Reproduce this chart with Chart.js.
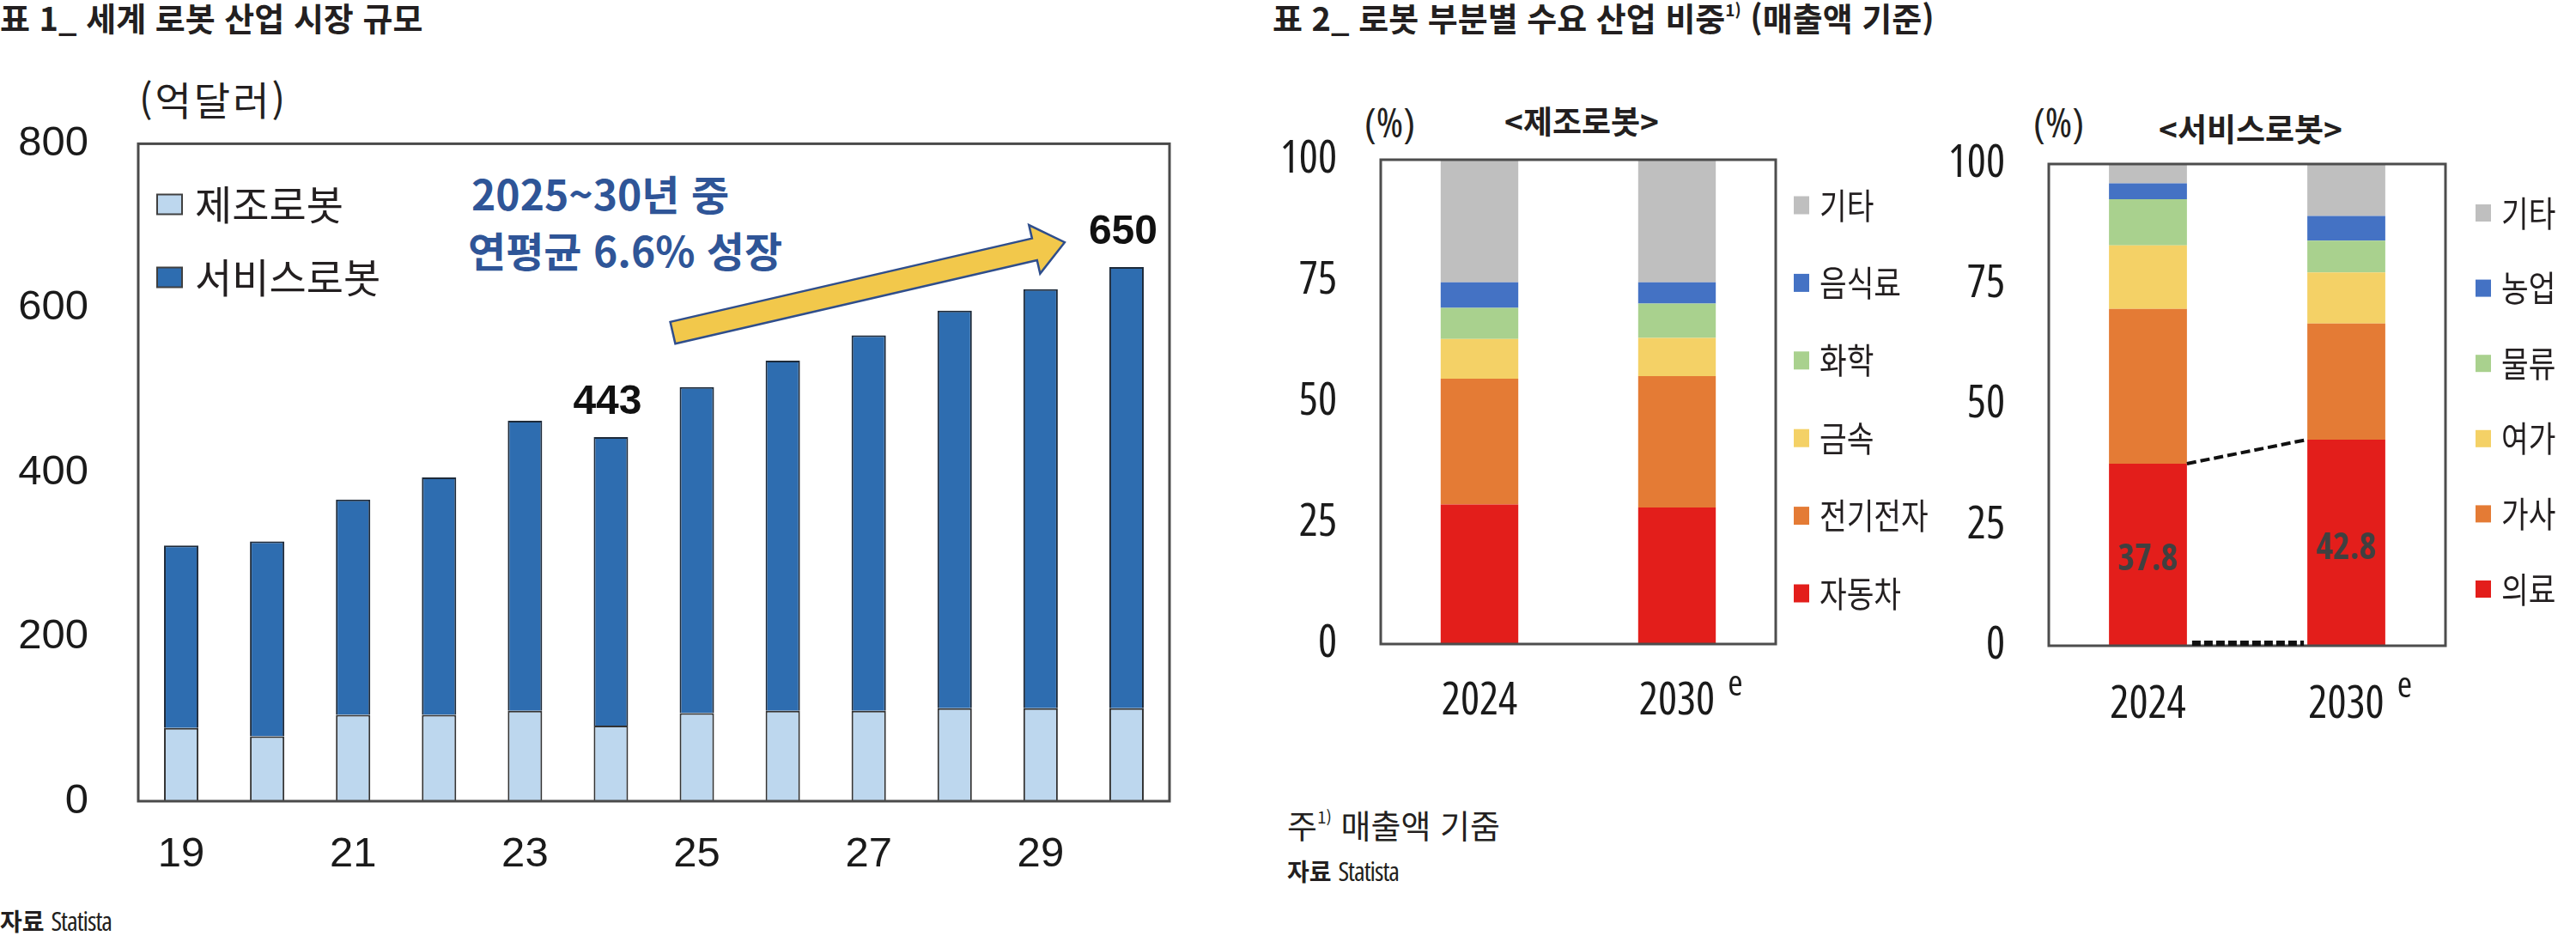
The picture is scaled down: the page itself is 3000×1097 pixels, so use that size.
<!DOCTYPE html>
<html lang="ko">
<head>
<meta charset="utf-8">
<title>로봇 산업 시장 규모 / 수요 산업 비중</title>
<script src="https://cdn.jsdelivr.net/npm/chart.js@4.4.1/dist/chart.umd.min.js"></script>
<style>
  html, body { margin: 0; padding: 0; background: #fff; }
  body { position: relative; width: 3000px; height: 1097px; overflow: hidden;
         font-family: "Noto Sans CJK KR", "Noto Sans", sans-serif; color: #231f20; }
  .txt { position: absolute; white-space: nowrap; line-height: 1; }
  .title { font-size: 38px; font-weight: 700; }
  .unit { font-size: 46px; letter-spacing: 3px; }
  .pct { font-family: "Open Sans", sans-serif; font-stretch: condensed; font-size: 48px; }
  .sub { font-size: 37px; font-weight: 700; text-align: center; width: 320px; }
  .note { font-size: 38px; }
  .src { font-size: 28px; }
  .src b { font-weight: 700; }
  .src span { font-family: "Open Sans", sans-serif; font-stretch: condensed; font-size: 31px; letter-spacing: -1px; }
  .growth { font-size: 48px; font-weight: 700; color: #2f5597; }
  sup { font-size: 0.5em; vertical-align: 0.9em; line-height: 0; }
  canvas { position: absolute; }
</style>
</head>
<body>
<div class="txt title" style="left:0;top:1px">표 1_ 세계 로봇 산업 시장 규모</div>
<div class="txt title" style="left:1482px;top:1px">표 2_ 로봇 부분별 수요 산업 비중<sup>1)</sup> (매출액 기준)</div>
<div class="txt unit" style="left:162px;top:91px">(억달러)</div>
<div class="txt pct" style="left:1589px;top:118px">(%)</div>
<div class="txt sub" style="left:1682px;top:122px">&lt;제조로봇&gt;</div>
<div class="txt pct" style="left:2368px;top:118px">(%)</div>
<div class="txt sub" style="left:2461px;top:131px">&lt;서비스로봇&gt;</div>
<div class="txt growth" style="left:549px;top:200px">2025~30년 중</div>
<div class="txt growth" style="left:545px;top:266px">연평균 6.6% 성장</div>
<div class="txt note" style="left:1499px;top:941px">주<sup>1)</sup> 매출액 기줌</div>
<div class="txt src" style="left:1499px;top:999px"><b>자료</b> <span>Statista</span></div>
<div class="txt src" style="left:0;top:1057px"><b>자료</b> <span>Statista</span></div>

<canvas id="c1" width="1420" height="1000" style="left:0;top:80px"></canvas>
<canvas id="c2" width="780" height="800" style="left:1480px;top:100px"></canvas>
<canvas id="c3" width="740" height="800" style="left:2260px;top:100px"></canvas>

<script>
// ---- 표 1: 세계 로봇 산업 시장 규모 (억달러)
const years = ['2019','2020','2021','2022','2023','2024','2025','2026','2027','2028','2029','2030'];
const yearTicks = ['19','','21','','23','','25','','27','','29',''];
const manufacturing = [89, 79, 105, 105, 110, 92, 107, 110, 110, 113, 113, 113];
const service = [222, 237, 262, 289, 353, 351, 397, 426, 457, 484, 510, 537];
const calloutYears = ['2024', '2030'];
// arrow anchors: [category index, 억달러]
const growthArrowFrom = [5.72, 570];
const growthArrowTo = [10.28, 680];

// ---- 표 2: 로봇 부분별 수요 산업 비중 (%)
const periods = ['2024', '2030'];
const periodSuffix = ['', 'e'];

const mfgAuto = [28.8, 28.2];
const mfgElec = [26.0, 27.1];
const mfgMetal = [8.2, 7.9];
const mfgChem = [6.4, 7.1];
const mfgFood = [5.3, 4.4];
const mfgEtc = [25.3, 25.3];

const svcMedical = [37.8, 42.8];
const svcHome = [32.1, 24.1];
const svcLeisure = [13.2, 10.6];
const svcLogistics = [9.6, 6.6];
const svcFarm = [3.3, 5.1];
const svcEtc = [4.0, 10.8];

const sectorColors = ['#E31E1B', '#E47B35', '#F4D166', '#A9D18E', '#4472C4', '#BFBFBF'];

const OPEN = "'Open Sans', sans-serif";
const KR = "'Noto Sans CJK KR', sans-serif";

// box around the plot area
const framePlugin = {
  id: 'frame',
  afterDatasetsDraw(chart, args, opts) {
    const {left, top, right, bottom} = chart.chartArea;
    const ctx = chart.ctx;
    ctx.save();
    ctx.strokeStyle = opts.color || '#4d4d4d';
    ctx.lineWidth = opts.width || 3;
    ctx.strokeRect(left, top, right - left, bottom - top);
    ctx.restore();
  }
};

// legend drawn at a fixed spot (inside the plot for 표 1, right side for 표 2)
const keysPlugin = {
  id: 'keys',
  afterDraw(chart, args, o) {
    const ctx = chart.ctx;
    let items = chart.data.datasets.map(d => ({label: d.label, color: d.backgroundColor}));
    if (o.reverse) items = items.reverse();
    ctx.save();
    ctx.font = o.font;
    ctx.textBaseline = 'middle';
    items.forEach((it, i) => {
      const cy = o.y + i * o.dy;
      ctx.fillStyle = it.color;
      ctx.fillRect(o.x, cy - o.box[1] / 2, o.box[0], o.box[1]);
      if (o.border) {
        ctx.strokeStyle = o.border;
        ctx.lineWidth = 2;
        ctx.strokeRect(o.x, cy - o.box[1] / 2, o.box[0], o.box[1]);
      }
      ctx.fillStyle = '#231f20';
      ctx.save();
      ctx.translate(o.x + o.textGap, cy);
      ctx.scale(o.scaleX || 1, 1);
      ctx.fillText(it.label, 0, 0);
      ctx.restore();
    });
    ctx.restore();
  }
};

const totalsPlugin = {
  id: 'totals',
  afterDatasetsDraw(chart) {
    const ctx = chart.ctx;
    const topBars = chart.getDatasetMeta(1).data;
    ctx.save();
    ctx.font = "bold 48px 'Liberation Sans', sans-serif";
    ctx.fillStyle = '#111';
    ctx.textAlign = 'center';
    ctx.textBaseline = 'middle';
    calloutYears.forEach(yr => {
      const i = years.indexOf(yr);
      const total = manufacturing[i] + service[i];
      ctx.fillText(String(total), topBars[i].x - 4, topBars[i].y - 40);
    });
    ctx.restore();
  }
};

const arrowPlugin = {
  id: 'growthArrow',
  afterDatasetsDraw(chart) {
    const {x, y} = chart.scales;
    const sx = x.getPixelForValue(growthArrowFrom[0]), sy = y.getPixelForValue(growthArrowFrom[1]);
    const tx = x.getPixelForValue(growthArrowTo[0]), ty = y.getPixelForValue(growthArrowTo[1]);
    const len = Math.hypot(tx - sx, ty - sy);
    const ux = (tx - sx) / len, uy = (ty - sy) / len;
    const nx = -uy, ny = ux;
    const hw = 13, hh = 29, headLen = 36;
    const bx = tx - ux * headLen, by = ty - uy * headLen;
    const pts = [
      [sx + nx * hw, sy + ny * hw], [bx + nx * hw, by + ny * hw], [bx + nx * hh, by + ny * hh],
      [tx, ty],
      [bx - nx * hh, by - ny * hh], [bx - nx * hw, by - ny * hw], [sx - nx * hw, sy - ny * hw]
    ];
    const ctx = chart.ctx;
    ctx.save();
    ctx.beginPath();
    pts.forEach((p, i) => i ? ctx.lineTo(p[0], p[1]) : ctx.moveTo(p[0], p[1]));
    ctx.closePath();
    ctx.fillStyle = '#F2C84B';
    ctx.fill();
    ctx.strokeStyle = '#2F4E8C';
    ctx.lineWidth = 2.5;
    ctx.stroke();
    ctx.restore();
  }
};

// superscript "e" after 2030
const suffixPlugin = {
  id: 'suffix',
  afterDraw(chart) {
    const sc = chart.scales.x, ctx = chart.ctx;
    ctx.save();
    ctx.font = 'normal condensed 42px ' + OPEN;
    ctx.fillStyle = '#1a1a1a';
    ctx.textAlign = 'center';
    ctx.textBaseline = 'middle';
    periods.forEach((p, i) => {
      if (periodSuffix[i]) ctx.fillText(periodSuffix[i], sc.getPixelForTick(i) + 68, sc.top + 48);
    });
    ctx.restore();
  }
};

const svcExtras = {
  id: 'svcExtras',
  afterDatasetsDraw(chart) {
    const ctx = chart.ctx, ys = chart.scales.y;
    const bars = chart.getDatasetMeta(0).data;
    const r0 = bars[0].x + bars[0].width / 2;
    const l1 = bars[1].x - bars[1].width / 2;
    ctx.save();
    ctx.strokeStyle = '#111';
    ctx.lineWidth = 4;
    ctx.setLineDash([11, 5]);
    ctx.beginPath();
    ctx.moveTo(r0, ys.getPixelForValue(svcMedical[0]));
    ctx.lineTo(l1, ys.getPixelForValue(svcMedical[1]));
    ctx.stroke();
    const y0 = ys.getPixelForValue(0) - 3;
    ctx.lineWidth = 6;
    ctx.setLineDash([10, 4]);
    ctx.beginPath();
    ctx.moveTo(r0 + 6, y0);
    ctx.lineTo(l1 - 4, y0);
    ctx.stroke();
    ctx.setLineDash([]);
    ctx.fillStyle = '#404040';
    ctx.font = 'bold condensed 42px ' + OPEN;
    ctx.textAlign = 'center';
    ctx.textBaseline = 'middle';
    svcMedical.forEach((v, i) => ctx.fillText(v.toFixed(1), bars[i].x, ys.getPixelForValue(v * 0.47)));
    ctx.restore();
  }
};

// ---------- 표 1
new Chart(document.getElementById('c1'), {
  type: 'bar',
  data: {
    labels: years,
    datasets: [
      { label: '제조로봇', data: manufacturing, backgroundColor: '#BDD7EE', borderColor: '#333333',
        borderWidth: 2, barPercentage: 0.4, categoryPercentage: 1 },
      { label: '서비스로봇', data: service, backgroundColor: '#2E6DB0', borderColor: '#1d2a3a',
        borderWidth: 2, barPercentage: 0.4, categoryPercentage: 1 }
    ]
  },
  options: {
    responsive: false,
    animation: false,
    devicePixelRatio: 1,
    layout: { padding: { top: 81, right: 58, bottom: 37, left: 0 } },
    plugins: {
      legend: { display: false },
      tooltip: { enabled: false },
      frame: { color: '#4a4a4a', width: 3 },
      keys: { x: 183, y: 158, dy: 85, box: [29, 23], textGap: 44, font: '47px ' + KR, border: '#404040' }
    },
    scales: {
      x: {
        stacked: true,
        grid: { display: false, drawTicks: false },
        border: { display: false },
        ticks: { autoSkip: false, maxRotation: 0, padding: 33, color: '#1a1a1a',
                 font: { family: "'Liberation Sans', sans-serif", size: 49 },
                 callback: (v, i) => yearTicks[i] },
        afterFit: s => { s.height = 110; }
      },
      y: {
        stacked: true, min: 0, max: 800,
        grid: { display: false, drawTicks: false },
        border: { display: false },
        ticks: { stepSize: 200, padding: 58, color: '#1a1a1a',
                 font: { family: "'Liberation Sans', sans-serif", size: 49 } },
        afterFit: s => { s.width = 161; }
      }
    }
  },
  plugins: [framePlugin, arrowPlugin, totalsPlugin, keysPlugin]
});

// ---------- 표 2 helpers
const pctFont = { family: OPEN, size: 52, weight: 'condensed' };

function shareChart(id, names, series, pad, yWidth, xPad, keys, extra) {
  return new Chart(document.getElementById(id), {
    type: 'bar',
    data: {
      labels: periods,
      datasets: names.map((n, i) => ({
        label: n, data: series[i], backgroundColor: sectorColors[i], borderWidth: 0,
        barPercentage: 0.393, categoryPercentage: 1
      }))
    },
    options: {
      responsive: false,
      animation: false,
      devicePixelRatio: 1,
      layout: { padding: pad },
      plugins: {
        legend: { display: false },
        tooltip: { enabled: false },
        frame: { color: '#4d4d4d', width: 3 },
        keys: keys
      },
      scales: {
        x: {
          stacked: true,
          grid: { display: false, drawTicks: false },
          border: { display: false },
          ticks: { padding: xPad, color: '#1a1a1a', maxRotation: 0, font: pctFont },
          afterFit: s => { s.height = 110; }
        },
        y: {
          stacked: true, min: 0, max: 100,
          grid: { display: false, drawTicks: false },
          border: { display: false },
          ticks: { stepSize: 25, padding: 51, color: '#1a1a1a', font: pctFont },
          afterFit: s => { s.width = yWidth; }
        }
      }
    },
    plugins: [framePlugin, keysPlugin, suffixPlugin].concat(extra || [])
  });
}

shareChart('c2',
  ['자동차', '전기전자', '금속', '화학', '음식료', '기타'],
  [mfgAuto, mfgElec, mfgMetal, mfgChem, mfgFood, mfgEtc],
  { top: 86, right: 192, bottom: 40, left: 0 }, 128, 36,
  { x: 609, y: 139, dy: 90.4, box: [18, 21], textGap: 30, font: '41px ' + KR, scaleX: 0.84, reverse: true });

shareChart('c3',
  ['의료', '가사', '여가', '물류', '농업', '기타'],
  [svcMedical, svcHome, svcLeisure, svcLogistics, svcFarm, svcEtc],
  { top: 91, right: 152, bottom: 38, left: 0 }, 126, 38,
  { x: 623, y: 148, dy: 87.6, box: [18, 20], textGap: 30, font: '41px ' + KR, scaleX: 0.84, reverse: true },
  [svcExtras]);
</script>
</body>
</html>
